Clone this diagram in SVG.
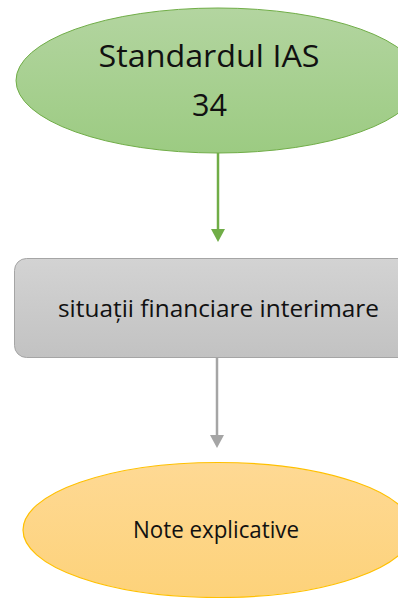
<svg xmlns="http://www.w3.org/2000/svg" width="398" height="598" viewBox="0 0 398 598">
<defs>
<linearGradient id="gGreen" x1="0" y1="0" x2="0" y2="1"><stop offset="0" stop-color="#b3d5a0"/><stop offset="1" stop-color="#9ccb82"/></linearGradient>
<linearGradient id="gGray" x1="0" y1="0" x2="0" y2="1"><stop offset="0" stop-color="#d3d3d3"/><stop offset="1" stop-color="#c2c2c2"/></linearGradient>
<linearGradient id="gGold" x1="0" y1="0" x2="0" y2="1"><stop offset="0" stop-color="#fed994"/><stop offset="1" stop-color="#fdd27a"/></linearGradient>
</defs>
<style>
text{font-family:"Open Sans","Noto Sans",sans-serif;fill:#111;text-anchor:middle}
</style>
<g id="connectors">
<line x1="218" y1="153" x2="218" y2="229" stroke="#70ad47" stroke-width="2.5"/>
<path d="M211,229 L225,229 L218,242 Z" fill="#70ad47"/>
<line x1="217" y1="358" x2="217" y2="435" stroke="#a5a5a5" stroke-width="2.5"/>
<path d="M210,435 L224,435 L217,448 Z" fill="#a5a5a5"/>
</g>
<g id="node-ias34">
<ellipse cx="218" cy="80.5" rx="202" ry="72.5" fill="url(#gGreen)" stroke="#70ad47" stroke-width="1"/>
<text x="209" y="67" font-size="31" textLength="221" lengthAdjust="spacingAndGlyphs">Standardul IAS</text>
<text x="209.5" y="116" font-size="31" textLength="35" lengthAdjust="spacingAndGlyphs">34</text>
</g>
<g id="node-situatii">
<rect x="14.5" y="258.5" width="400" height="99" rx="12" fill="url(#gGray)" stroke="#a5a5a5" stroke-width="1"/>
<text x="218.5" y="317" font-size="24" textLength="321" lengthAdjust="spacingAndGlyphs">situații financiare interimare</text>
</g>
<g id="node-note">
<ellipse cx="218" cy="530" rx="195" ry="67.5" fill="url(#gGold)" stroke="#ffc000" stroke-width="1.2"/>
<text x="216" y="538" font-size="23" textLength="166" lengthAdjust="spacingAndGlyphs">Note explicative</text>
</g>
</svg>
